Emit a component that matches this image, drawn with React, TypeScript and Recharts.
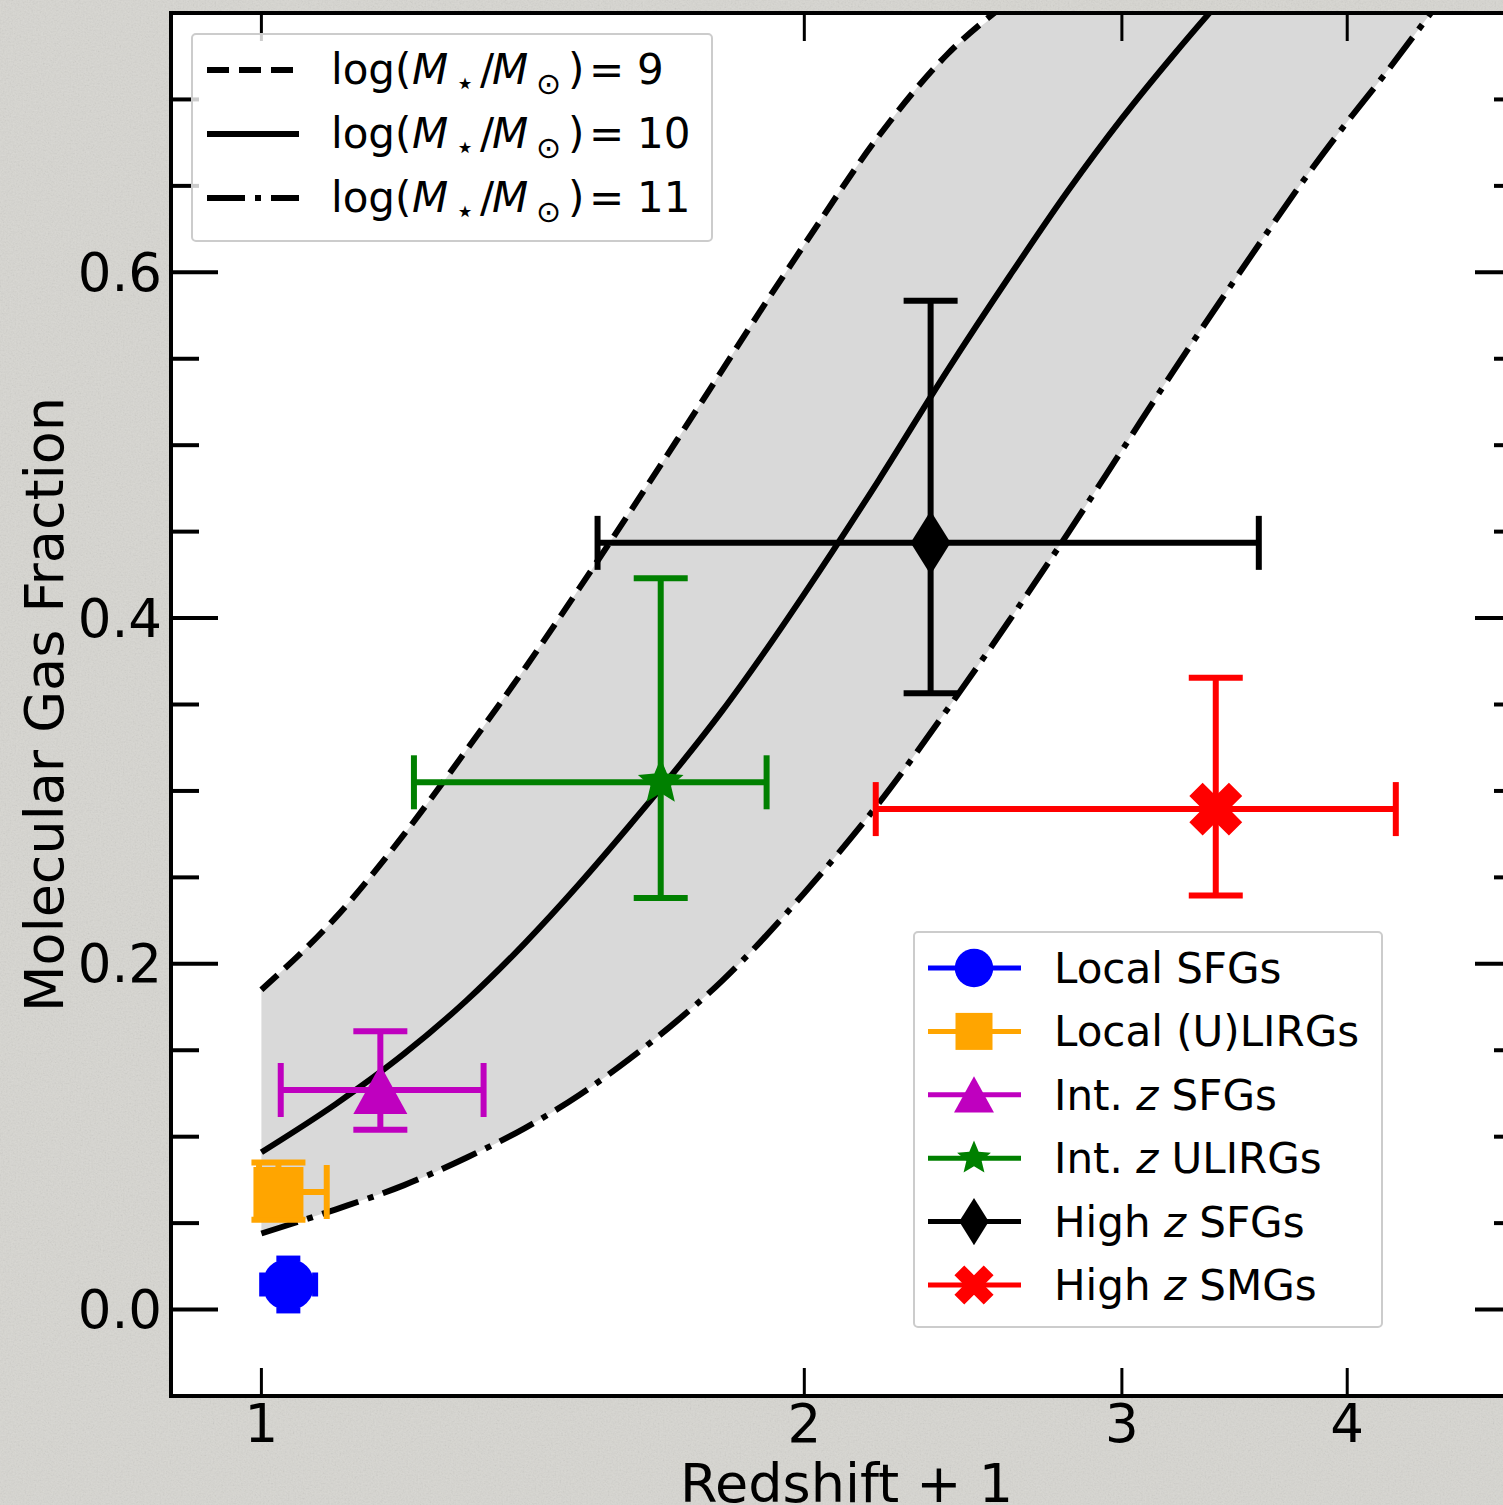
import React from 'react';
import {
  Area,
  CartesianGrid,
  ComposedChart,
  ErrorBar,
  Line,
  Scatter,
  XAxis,
  YAxis,
} from 'recharts';

const FONT = "'DejaVu Sans', 'Liberation Sans', sans-serif";
const PAGE_BG = '#d7d6d1';

// model tracks at these (1+z) values
const curveX = [1.0, 1.1, 1.2, 1.3, 1.4, 1.5, 1.6, 1.7, 1.8, 1.9, 2.0, 2.2, 2.4, 2.6, 2.8, 3.0, 3.2, 3.4, 3.6, 3.8, 4.0, 4.2, 4.4, 4.6];
const fgasLogM9 = [0.185, 0.227, 0.275, 0.324, 0.371, 0.417, 0.461, 0.503, 0.543, 0.581, 0.616, 0.679, 0.726, 0.757];
const fgasLogM10 = [0.091, 0.119, 0.148, 0.179, 0.212, 0.246, 0.28, 0.313, 0.346, 0.38, 0.414, 0.48, 0.543, 0.598, 0.647, 0.689, 0.725, 0.757, 0.786];
const fgasLogM11 = [0.044, 0.058, 0.072, 0.088, 0.105, 0.124, 0.145, 0.167, 0.19, 0.215, 0.241, 0.293, 0.347, 0.399, 0.449, 0.497, 0.542, 0.583, 0.621, 0.656, 0.687, 0.715, 0.743, 0.77];
// the shaded band runs off the top of the frame once the logM=9 track leaves it
const bandTopOffFrame = 0.8;

// observed samples
const sampleNames = ['Local SFGs', 'Local (U)LIRGs', 'Int. z SFGs', 'Int. z ULIRGs', 'High z SFGs', 'High z SMGs'];
const sampleZ1 = [1.035, 1.022, 1.164, 1.665, 2.35, 3.382];
const sampleFgas = [0.0145, 0.068, 0.127, 0.305, 0.4435, 0.2895];
const sampleZ1ErrLo = [0.034, 0.025, 0.139, 0.45, 0.814, 1.191];
const sampleZ1ErrHi = [0.036, 0.065, 0.164, 0.241, 1.223, 0.874];
const sampleFgasErrLo = [0.015, 0.016, 0.023, 0.067, 0.087, 0.05];
const sampleFgasErrHi = [0.015, 0.017, 0.034, 0.118, 0.14, 0.076];

const xTicks = [1, 2, 3, 4];
const yMajorTicks = [0, 0.2, 0.4, 0.6];
const yMinorTicks = [0.05, 0.1, 0.15, 0.25, 0.3, 0.35, 0.45, 0.5, 0.55, 0.65, 0.7];
const massLabels = ['9', '10', '11'];

// styles per sample
const sampleColors = ['#0000ff', '#ffa500', '#bf00bf', '#008000', '#000000', '#ff0000'];
const sampleMarkers = ['circle', 'square', 'triangle', 'star', 'thinDiamond', 'xFilled'];
const sampleCapHalf = [12, 27, 27, 27, 27, 27];

const X_DOMAIN: [number, number] = [0.891, 5];
const Y_DOMAIN: [number, number] = [-0.05, 0.75];

// the chart is a bit wider than the page: the right spine sits just off-screen
const CHART_W = 1540;
const CHART_H = 1505;
const MAJOR_LEN = 47;
const MINOR_LEN = 28;
const X_TICK_LEN = 28;
const TICK_FONT = 53;

const DASHED = '22 10';
const DASH_DOT = '38 10 6 10';
const trackStyles = [DASHED, undefined, DASH_DOT];

const toPoints = (ys: number[]) => ys.map((y, i) => ({ x: curveX[i], y }));
const tracks = [toPoints(fgasLogM9), toPoints(fgasLogM10), toPoints(fgasLogM11)];
const band = curveX.map((x, i) => ({
  x,
  lo: fgasLogM11[i],
  hi: fgasLogM9[i] ?? bandTopOffFrame,
}));
const samples = sampleNames.map((name, i) => ({
  name,
  x: sampleZ1[i],
  y: sampleFgas[i],
  ex: [sampleZ1ErrLo[i], sampleZ1ErrHi[i]],
  ey: [sampleFgasErrLo[i], sampleFgasErrHi[i]],
}));
const yTicks = [...yMajorTicks, ...yMinorTicks].sort((a, b) => a - b);
const isMajorY = (v: number) => yMajorTicks.some(t => Math.abs(t - v) < 1e-6);

function Marker({ kind, cx, cy, color, scale = 1 }: any) {
  const s = scale;
  switch (kind) {
    case 'circle':
      return <circle cx={cx} cy={cy} r={26 * s} fill={color} />;
    case 'square':
      return <rect x={cx - 25 * s} y={cy - 25 * s} width={50 * s} height={50 * s} fill={color} />;
    case 'triangle':
      return (
        <polygon
          points={`${cx},${cy - 25 * s} ${cx + 27 * s},${cy + 24 * s} ${cx - 27 * s},${cy + 24 * s}`}
          fill={color}
        />
      );
    case 'star': {
      const R = 24 * s;
      const r = R * 0.45;
      const pts = [];
      for (let k = 0; k < 10; k++) {
        const a = -Math.PI / 2 + (k * Math.PI) / 5;
        const rad = k % 2 === 0 ? R : r;
        pts.push(`${cx + rad * Math.cos(a)},${cy + rad * Math.sin(a)}`);
      }
      return <polygon points={pts.join(' ')} fill={color} />;
    }
    case 'thinDiamond':
      return (
        <polygon
          points={`${cx},${cy - 32 * s} ${cx + 20 * s},${cy} ${cx},${cy + 32 * s} ${cx - 20 * s},${cy}`}
          fill={color}
        />
      );
    case 'xFilled': {
      const L = 28 * s;
      const w = 9.4 * s;
      const pts = [
        [-w, -L], [w, -L], [w, -w], [L, -w], [L, w], [w, w],
        [w, L], [-w, L], [-w, w], [-L, w], [-L, -w], [-w, -w],
      ]
        .map(([px, py]) => `${px},${py}`)
        .join(' ');
      return <polygon points={pts} fill={color} transform={`translate(${cx},${cy}) rotate(45)`} />;
    }
    default:
      return null;
  }
}

function LeftTick({ x, y, payload }: any) {
  const major = isMajorY(payload.value);
  return (
    <g>
      <line x1={x} x2={x + (major ? MAJOR_LEN : MINOR_LEN)} y1={y} y2={y} stroke='#000' strokeWidth={4} />
      {major && (
        <text x={x - 9} y={y} textAnchor='end' dominantBaseline='central' fontSize={TICK_FONT} fontFamily={FONT} fill='#000'>
          {payload.value.toFixed(1)}
        </text>
      )}
    </g>
  );
}

function RightTick({ x, y, payload }: any) {
  const major = isMajorY(payload.value);
  return <line x1={x} x2={x - (major ? MAJOR_LEN : MINOR_LEN)} y1={y} y2={y} stroke='#000' strokeWidth={4} />;
}

function BottomTick({ x, y, payload }: any) {
  return (
    <g>
      <line x1={x} x2={x} y1={y} y2={y - X_TICK_LEN} stroke='#000' strokeWidth={3} />
      <text x={x} y={y + 46} textAnchor='middle' fontSize={TICK_FONT} fontFamily={FONT} fill='#000'>
        {payload.value}
      </text>
    </g>
  );
}

function TopTick({ x, y }: any) {
  return <line x1={x} x2={x} y1={y} y2={y + X_TICK_LEN} stroke='#000' strokeWidth={3} />;
}

const xTitle = ({ viewBox }: any) => (
  <text x={viewBox.x + viewBox.width / 2} y={viewBox.y + 106} textAnchor='middle' fontSize={54} fontFamily={FONT} fill='#000'>
    Redshift + 1
  </text>
);

const yTitle = ({ viewBox }: any) => (
  <text
    transform={`translate(${viewBox.x + 63},${viewBox.y + viewBox.height / 2}) rotate(-90)`}
    textAnchor='middle'
    fontSize={54}
    fontFamily={FONT}
    fill='#000'
  >
    Molecular Gas Fraction
  </text>
);

function MassLabel({ x, y, value }: { x: number; y: number; value: string }) {
  return (
    <text x={x} y={y} fontSize={42} fontFamily={FONT} fill='#000'>
      <tspan>log(</tspan>
      <tspan x={x + 81} fontStyle='italic'>M</tspan>
      <tspan x={x + 124} dy={10} fontSize={32}>⋆</tspan>
      <tspan x={x + 149} dy={-10}>/</tspan>
      <tspan x={x + 161} fontStyle='italic'>M</tspan>
      <tspan x={x + 205} dy={10} fontSize={30}>⊙</tspan>
      <tspan x={x + 237} dy={-10}>)</tspan>
      <tspan x={x + 258}>=</tspan>
      <tspan x={x + 306}>{value}</tspan>
    </text>
  );
}

function SampleLabel({ x, y, name }: { x: number; y: number; name: string }) {
  const parts = name.split(/( z )/);
  return (
    <text x={x} y={y} fontSize={42} fontFamily={FONT} fill='#000' style={{ whiteSpace: 'pre' }}>
      {parts.map((p, i) =>
        p === ' z ' ? (
          <tspan key={i}>
            {' '}
            <tspan fontStyle='italic'>z</tspan>{' '}
          </tspan>
        ) : (
          <tspan key={i}>{p}</tspan>
        ),
      )}
    </text>
  );
}

// grey paper texture behind the figure
function PaperBackground() {
  return (
    <svg width={1503} height={1505} style={{ position: 'absolute', left: 0, top: 0 }}>
      <defs>
        <filter id='paper-noise' x='0' y='0' width='100%' height='100%'>
          <feTurbulence type='fractalNoise' baseFrequency='0.6' numOctaves={2} seed={3} />
          <feColorMatrix type='saturate' values='0' />
          <feComponentTransfer>
            <feFuncA type='linear' slope={0.22} />
          </feComponentTransfer>
        </filter>
      </defs>
      <rect width={1503} height={1505} fill={PAGE_BG} />
      <rect width={1503} height={1505} filter='url(#paper-noise)' />
    </svg>
  );
}

function Legends() {
  return (
    <svg
      width={1503}
      height={1505}
      style={{ position: 'absolute', left: 0, top: 0, pointerEvents: 'none' }}
    >
      {/* model tracks */}
      <rect x={192} y={34} width={520} height={207} rx={4} fill='#fff' fillOpacity={0.8} stroke='#cccccc' strokeWidth={2} />
      {massLabels.map((m, i) => {
        const rowY = 70 + i * 64;
        return (
          <g key={m}>
            <line x1={207} x2={299} y1={rowY} y2={rowY} stroke='#000' strokeWidth={6} strokeDasharray={trackStyles[i]} />
            <MassLabel x={331} y={rowY + 14} value={m} />
          </g>
        );
      })}

      {/* observed samples */}
      <rect x={914} y={932} width={468} height={395} rx={4} fill='#fff' fillOpacity={0.8} stroke='#cccccc' strokeWidth={2} />
      {sampleNames.map((name, i) => {
        const rowY = 968 + i * 63.4;
        return (
          <g key={name}>
            <line x1={928} x2={1021} y1={rowY} y2={rowY} stroke={sampleColors[i]} strokeWidth={5} />
            <Marker kind={sampleMarkers[i]} cx={974} cy={rowY} color={sampleColors[i]} scale={0.74} />
            <SampleLabel x={1054} y={rowY + 15} name={name} />
          </g>
        );
      })}
    </svg>
  );
}

export default function App() {
  return (
    <div
      style={{
        position: 'absolute',
        left: 0,
        top: 0,
        width: 1503,
        height: 1505,
        overflow: 'hidden',
        background: PAGE_BG,
      }}
    >
      <PaperBackground />
      <ComposedChart width={CHART_W} height={CHART_H} margin={{ top: 0, right: 0, bottom: 0, left: 0 }}>
        <CartesianGrid fill='#ffffff' stroke='none' horizontal={false} vertical={false} />
        <XAxis
          dataKey='x'
          type='number'
          scale='log'
          domain={X_DOMAIN}
          allowDataOverflow
          ticks={xTicks}
          interval={0}
          height={109}
          tickSize={0}
          tickMargin={0}
          tickLine={false}
          tick={<BottomTick />}
          axisLine={{ stroke: '#000', strokeWidth: 4, strokeLinecap: 'square' }}
          label={xTitle}
        />
        <XAxis
          xAxisId='top'
          orientation='top'
          dataKey='x'
          type='number'
          scale='log'
          domain={X_DOMAIN}
          allowDataOverflow
          ticks={xTicks}
          interval={0}
          height={13}
          tickSize={0}
          tickMargin={0}
          tickLine={false}
          tick={<TopTick />}
          axisLine={{ stroke: '#000', strokeWidth: 4, strokeLinecap: 'square' }}
        />
        <YAxis
          type='number'
          domain={Y_DOMAIN}
          allowDataOverflow
          ticks={yTicks}
          interval={0}
          width={171}
          tickSize={0}
          tickMargin={0}
          tickLine={false}
          tick={<LeftTick />}
          axisLine={{ stroke: '#000', strokeWidth: 4, strokeLinecap: 'square' }}
          label={yTitle}
        />
        <YAxis
          yAxisId='right'
          orientation='right'
          type='number'
          domain={Y_DOMAIN}
          allowDataOverflow
          ticks={yTicks}
          interval={0}
          width={18}
          tickSize={0}
          tickMargin={0}
          tickLine={false}
          tick={<RightTick />}
          axisLine={{ stroke: '#000', strokeWidth: 4 }}
        />

        <Area
          data={band}
          dataKey={(d: any) => [d.lo, d.hi]}
          type='monotone'
          fill='#d9d9d9'
          fillOpacity={1}
          stroke='none'
          isAnimationActive={false}
        />
        {tracks.map((pts, i) => (
          <Line
            key={massLabels[i]}
            data={pts}
            dataKey='y'
            type='monotone'
            stroke='#000'
            strokeWidth={6}
            strokeDasharray={trackStyles[i]}
            dot={false}
            activeDot={false}
            isAnimationActive={false}
          />
        ))}
        {samples.map((s, i) => (
          <Scatter
            key={s.name}
            name={s.name}
            data={[s]}
            dataKey='y'
            isAnimationActive={false}
            shape={(p: any) => <Marker kind={sampleMarkers[i]} cx={p.cx} cy={p.cy} color={sampleColors[i]} />}
          >
            <ErrorBar dataKey='ex' direction='x' width={sampleCapHalf[i]} strokeWidth={6} stroke={sampleColors[i]} />
            <ErrorBar dataKey='ey' direction='y' width={sampleCapHalf[i]} strokeWidth={6} stroke={sampleColors[i]} />
          </Scatter>
        ))}
      </ComposedChart>
      <Legends />
    </div>
  );
}
